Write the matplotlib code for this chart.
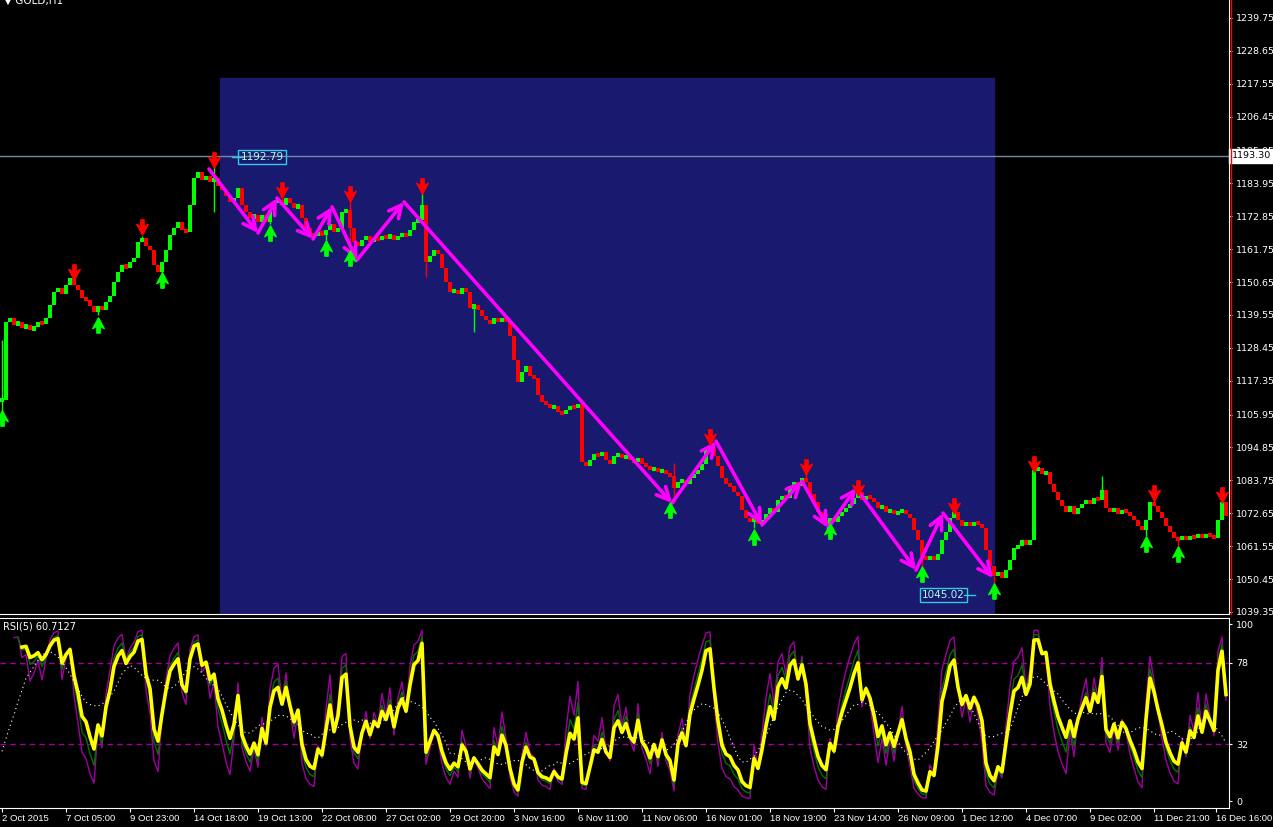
import numpy as np
import matplotlib
matplotlib.use('Agg')
import matplotlib.pyplot as plt
from matplotlib.path import Path
from matplotlib.patches import Rectangle
from matplotlib.lines import Line2D

# GOLD H1, closes sampled every 4 hours (one value per drawn bar)
closes = [
    1110.9, 1137.2, 1138.5, 1136.2, 1137.2, 1135.2, 1136.2, 1134.5, 1135.5, 1137.2,
    1136.5, 1138.5, 1142.9, 1147.3, 1148.7, 1146.6, 1149.7, 1152.0, 1149.7, 1148.0,
    1145.3, 1144.6, 1142.6, 1140.6, 1142.6, 1141.2, 1143.9, 1146.0, 1150.7, 1154.1,
    1156.4, 1155.4, 1157.4, 1158.8, 1164.2, 1165.5, 1162.8, 1161.5, 1156.4, 1154.1,
    1157.4, 1161.5, 1166.5, 1168.9, 1170.9, 1168.2, 1167.5, 1176.7, 1185.8, 1187.8,
    1185.1, 1186.4, 1184.4, 1185.8, 1183.1, 1181.7, 1179.7, 1177.7, 1179.0, 1182.4,
    1176.7, 1174.3, 1172.3, 1173.3, 1170.9, 1173.3, 1170.9, 1175.0, 1177.7, 1178.3,
    1176.7, 1179.0, 1177.3, 1175.6, 1176.7, 1172.3, 1168.9, 1166.9, 1166.2, 1167.5,
    1166.5, 1168.2, 1170.3, 1167.5, 1168.9, 1174.3, 1175.0, 1168.9, 1164.2, 1162.8,
    1164.9, 1166.2, 1164.2, 1165.5, 1164.9, 1166.2, 1165.5, 1166.5, 1164.9, 1166.2,
    1166.9, 1166.2, 1168.2, 1170.9, 1171.6, 1176.7, 1157.4, 1159.5, 1161.5, 1160.1,
    1155.4, 1150.7, 1147.3, 1148.0, 1146.6, 1148.7, 1147.3, 1141.9, 1142.9, 1141.2,
    1139.2, 1137.9, 1136.5, 1138.5, 1137.2, 1138.5, 1137.2, 1132.5, 1124.4, 1116.9,
    1120.3, 1122.3, 1119.0, 1118.3, 1112.6, 1110.2, 1109.5, 1108.2, 1108.8, 1106.8,
    1106.1, 1107.5, 1108.8, 1108.2, 1109.5, 1090.0, 1088.6, 1090.6, 1092.7, 1092.0,
    1093.3, 1090.6, 1089.3, 1092.0, 1092.7, 1091.3, 1092.0, 1090.6, 1090.0, 1091.3,
    1089.3, 1088.6, 1087.3, 1087.9, 1086.6, 1087.3, 1085.9, 1085.2, 1081.2, 1083.2,
    1083.9, 1082.5, 1084.6, 1085.9, 1087.3, 1089.3, 1094.0, 1094.7, 1092.0, 1088.6,
    1084.6, 1082.5, 1081.9, 1079.8, 1078.5, 1073.8, 1071.1, 1069.7, 1071.7, 1069.0,
    1070.4, 1072.4, 1074.4, 1073.1, 1077.1, 1078.5, 1077.8, 1081.9, 1083.2, 1081.9,
    1084.6, 1083.2, 1079.2, 1076.5, 1073.1, 1070.4, 1069.0, 1071.1, 1069.7, 1071.7,
    1073.1, 1074.4, 1075.8, 1077.8, 1079.8, 1077.1, 1078.5, 1077.8, 1076.5, 1074.4,
    1075.1, 1073.1, 1073.8, 1072.4, 1073.1, 1073.8, 1072.4, 1071.1, 1067.0, 1063.6,
    1058.2, 1056.9, 1058.2, 1056.9, 1058.9, 1063.6, 1066.3, 1071.1, 1073.1, 1070.4,
    1068.4, 1069.7, 1068.4, 1069.7, 1069.0, 1067.7, 1060.3, 1054.9, 1051.5, 1052.8,
    1050.8, 1053.5, 1056.9, 1060.9, 1061.6, 1063.6, 1062.0, 1063.6, 1087.3, 1087.9,
    1085.9, 1086.6, 1082.5, 1079.8, 1077.1, 1075.1, 1073.1, 1075.1, 1072.4, 1074.4,
    1075.8, 1077.1, 1075.8, 1077.8, 1077.1, 1080.5, 1074.4, 1073.1, 1074.4, 1072.4,
    1073.8, 1073.1, 1071.7, 1070.4, 1068.4, 1067.0, 1070.4, 1076.5, 1075.1, 1073.1,
    1071.1, 1068.4, 1066.3, 1064.3, 1063.6, 1065.0, 1063.6, 1065.0, 1064.3, 1065.7,
    1064.3, 1065.7, 1065.0, 1064.3, 1070.4, 1076.5, 1071.7,
]

# long wicks that stick out of the bodies
hi_bars = [0, 18, 35, 53, 70, 87, 105, 168, 177, 201, 214, 238, 258, 275, 288, 305]
hi_vals = [1131.1, 1150.7, 1166.2, 1192.8, 1180.4, 1180.4, 1184.1, 1089.6, 1097.4,
           1086.6, 1080.5, 1074.4, 1090.6, 1085.2, 1078.0, 1078.5]
lo_bars = [0, 24, 40, 53, 67, 81, 87, 106, 118, 168, 188, 207, 230, 248, 286, 294]
lo_vals = [1106.8, 1139.6, 1153.4, 1174.3, 1170.3, 1164.9, 1163.2, 1152.4, 1133.8,
           1076.1, 1067.7, 1068.4, 1054.9, 1045.0, 1065.0, 1061.0]

# fractal arrows
frac_up_bars = [18, 35, 53, 70, 87, 105, 177, 201, 214, 238, 258, 288, 305]
frac_up_vals = [1154.1, 1169.2, 1191.8, 1181.7, 1180.4, 1183.1, 1098.4, 1088.3,
                1081.2, 1075.1, 1089.3, 1079.5, 1078.8]
frac_dn_bars = [0, 24, 40, 67, 81, 87, 167, 188, 207, 230, 248, 286, 294]
frac_dn_vals = [1104.8, 1136.2, 1151.4, 1167.2, 1162.2, 1158.8, 1073.8, 1064.6,
                1066.7, 1052.2, 1046.4, 1062.3, 1058.9]

# zigzag swing points
zz_bars = [51.75, 64, 68.75, 77.75, 82.5, 88.75, 100.5, 167.5, 178.5, 190, 200,
           206.5, 213.5, 228.5, 235.25, 247.75]
zz_vals = [1188.8, 1167.2, 1179.0, 1165.2, 1176.0, 1158.1, 1177.7, 1076.1, 1097.0,
           1068.7, 1083.5, 1067.7, 1081.2, 1053.5, 1072.7, 1050.8]

price_ticks = [1239.75, 1228.65, 1217.55, 1206.45, 1195.05, 1183.95, 1172.85, 1161.75,
               1150.65, 1139.55, 1128.45, 1117.35, 1105.95, 1094.85, 1083.75, 1072.65,
               1061.55, 1050.45, 1039.35]
date_ticks = [0, 16, 32, 48, 64, 80, 96, 112, 128, 144, 160, 176, 192, 208, 224, 240,
              256, 272, 288, 303.5]
date_labels = ['2 Oct 2015', '7 Oct 05:00', '9 Oct 23:00', '14 Oct 18:00', '19 Oct 13:00',
               '22 Oct 08:00', '27 Oct 02:00', '29 Oct 20:00', '3 Nov 16:00', '6 Nov 11:00',
               '11 Nov 06:00', '16 Nov 01:00', '18 Nov 19:00', '23 Nov 14:00', '26 Nov 09:00',
               '1 Dec 12:00', '4 Dec 07:00', '9 Dec 02:00', '11 Dec 21:00', '16 Dec 16:00']
rsi_ticks = [0, 32, 78, 100]

narrow = ['Liberation Sans Narrow', 'Liberation Sans', 'DejaVu Sans']


def rsi(vals, period):
    vals = np.asarray(vals)
    d = np.diff(vals)
    g = np.where(d > 0, d, 0.0)
    l = np.where(d < 0, -d, 0.0)
    out = np.full(len(vals), np.nan)
    ag = g[:period].mean()
    al = l[:period].mean()
    for i in range(period, len(vals)):
        if i > period:
            ag = (ag * (period - 1) + g[i - 1]) / period
            al = (al * (period - 1) + l[i - 1]) / period
        out[i] = 100.0 if al == 0 else 100 - 100 / (1 + ag / al)
    return out


closes = np.array(closes)
bars = np.arange(len(closes))
opens = np.r_[closes[0], closes[:-1]]

W, H = 1273, 827
fig = plt.figure(figsize=(W / 100, H / 100), dpi=100, facecolor='black')
ax = fig.add_axes([0, 213 / H, 1229 / W, 614 / H], facecolor='black')
ax2 = fig.add_axes([0, 19 / H, 1229 / W, 190 / H], facecolor='black')

for a in (ax, ax2):
    a.set_xlim(-0.5, 306.75)
    a.spines['left'].set_visible(False)
    for s in ('right', 'bottom', 'top'):
        a.spines[s].set_color('white')
    a.spines['top'].set_visible(a is ax2)
ax.set_ylim(1038.67, 1245.82)
ax2.set_ylim(-3.95, 103.4)

# selection rectangle
ax.add_patch(Rectangle((54.5, 1000), 248 - 54.5, 1219.5 - 1000, color='#191970', zorder=0))
ax.axhline(1193.30, color='#778899', lw=1, zorder=1)

# candles
up = closes >= opens
cols = np.where(up, '#00ff00', '#ff0000')
body = np.abs(closes - opens)
hgt = np.maximum(body, 1.6)
lo = np.minimum(opens, closes) - (hgt - body) / 2
ax.vlines(hi_bars, closes[hi_bars], hi_vals, colors=cols[hi_bars], lw=1, zorder=2)
ax.vlines(lo_bars, lo_vals, closes[lo_bars], colors=cols[lo_bars], lw=1, zorder=2)
ax.bar(bars, hgt, bottom=lo, width=0.8, color=cols, zorder=3)

# zigzag arrows
for i in range(len(zz_bars) - 1):
    ax.annotate('', xy=(zz_bars[i + 1], zz_vals[i + 1]), xytext=(zz_bars[i], zz_vals[i]),
                arrowprops=dict(arrowstyle='->,head_length=0.9,head_width=0.45',
                                color='#ff00ff', lw=2.6, shrinkA=0, shrinkB=0), zorder=5)

# fractal arrows
dn = [(-0.13, 0.6), (0.13, 0.6), (0.13, 0.05), (0.45, 0.25), (0, -0.6), (-0.45, 0.25),
      (-0.13, 0.05), (-0.13, 0.6)]
down_arrow = Path(dn, closed=True)
up_arrow = Path([(x, -y) for x, y in dn], closed=True)
ax.plot(frac_up_bars, frac_up_vals, ls='none', marker=down_arrow, ms=11, color='#ff0000', zorder=6)
ax.plot(frac_dn_bars, frac_dn_vals, ls='none', marker=up_arrow, ms=11, color='#00ff00', zorder=6)

# high / low labels
box = dict(boxstyle='square,pad=0.2', fc='none', ec='#33ccdd', lw=1)
ax.plot([57.5, 60.2], [1192.79, 1192.79], color='#33ccdd', lw=1, zorder=6)
ax.text(65, 1192.79, '1192.79', color='#aaffee', fontsize=7.5, ha='center', va='center', bbox=box, zorder=7)
ax.plot([240.6, 243.2], [1045.02, 1045.02], color='#33ccdd', lw=1, zorder=6)
ax.text(235.3, 1045.02, '1045.02', color='#aaffee', fontsize=7.5, ha='center', va='center', bbox=box, zorder=7)

# price scale
ax.yaxis.tick_right()
ax.set_yticks(price_ticks)
ax.set_yticklabels(['%.2f' % p for p in price_ticks])
ax.tick_params(axis='y', colors='white', labelsize=6.8, length=2, pad=3)
ax.set_xticks([])
ax.text(1.002, 1193.30, '1193.30', transform=ax.get_yaxis_transform(), color='black',
        fontsize=6.8, ha='left', va='center', zorder=10, clip_on=False,
        bbox=dict(boxstyle='square,pad=0.25', fc='white', ec='white'))
fig.add_artist(Line2D([1231 / W, 1231 / W], [213 / H, 1], color='#ff0000', lw=1))

# RSI panel
r5 = rsi(closes, 5)
r3 = rsi(closes, 3)
r4 = rsi(closes, 4)
ma = np.convolve(np.nan_to_num(r5, nan=50), np.ones(12) / 12, mode='same')
ax2.axhline(78, color='#a000a0', lw=1, ls=(0, (4, 3)))
ax2.axhline(32, color='#a000a0', lw=1, ls=(0, (4, 3)))
ax2.plot(bars, r3, color='#a000a0', lw=1)
ax2.plot(bars, r4, color='#007000', lw=1)
ax2.plot(bars, r5, color='#ffff00', lw=2.6)
ax2.plot(bars, ma, color='white', lw=0.8, ls=(0, (1, 3)))
ax2.text(3 / 1229, 0.953, 'RSI(5) 60.7127', transform=ax2.transAxes, color='white',
         fontsize=7, va='center', ha='left')
ax2.yaxis.tick_right()
ax2.set_yticks(rsi_ticks)
ax2.tick_params(axis='y', colors='white', labelsize=6.8, length=2, pad=3)
ax2.set_xticks(date_ticks)
ax2.set_xticklabels(date_labels, ha='left', family=narrow)
ax2.tick_params(axis='x', colors='white', labelsize=6.8, length=3, pad=1.5)

fig.text(4 / W, 0.999, '\u25bc GOLD,H1', color='white', fontsize=7.5, va='center', ha='left')

fig.savefig('out.png', dpi=100, facecolor='black')
